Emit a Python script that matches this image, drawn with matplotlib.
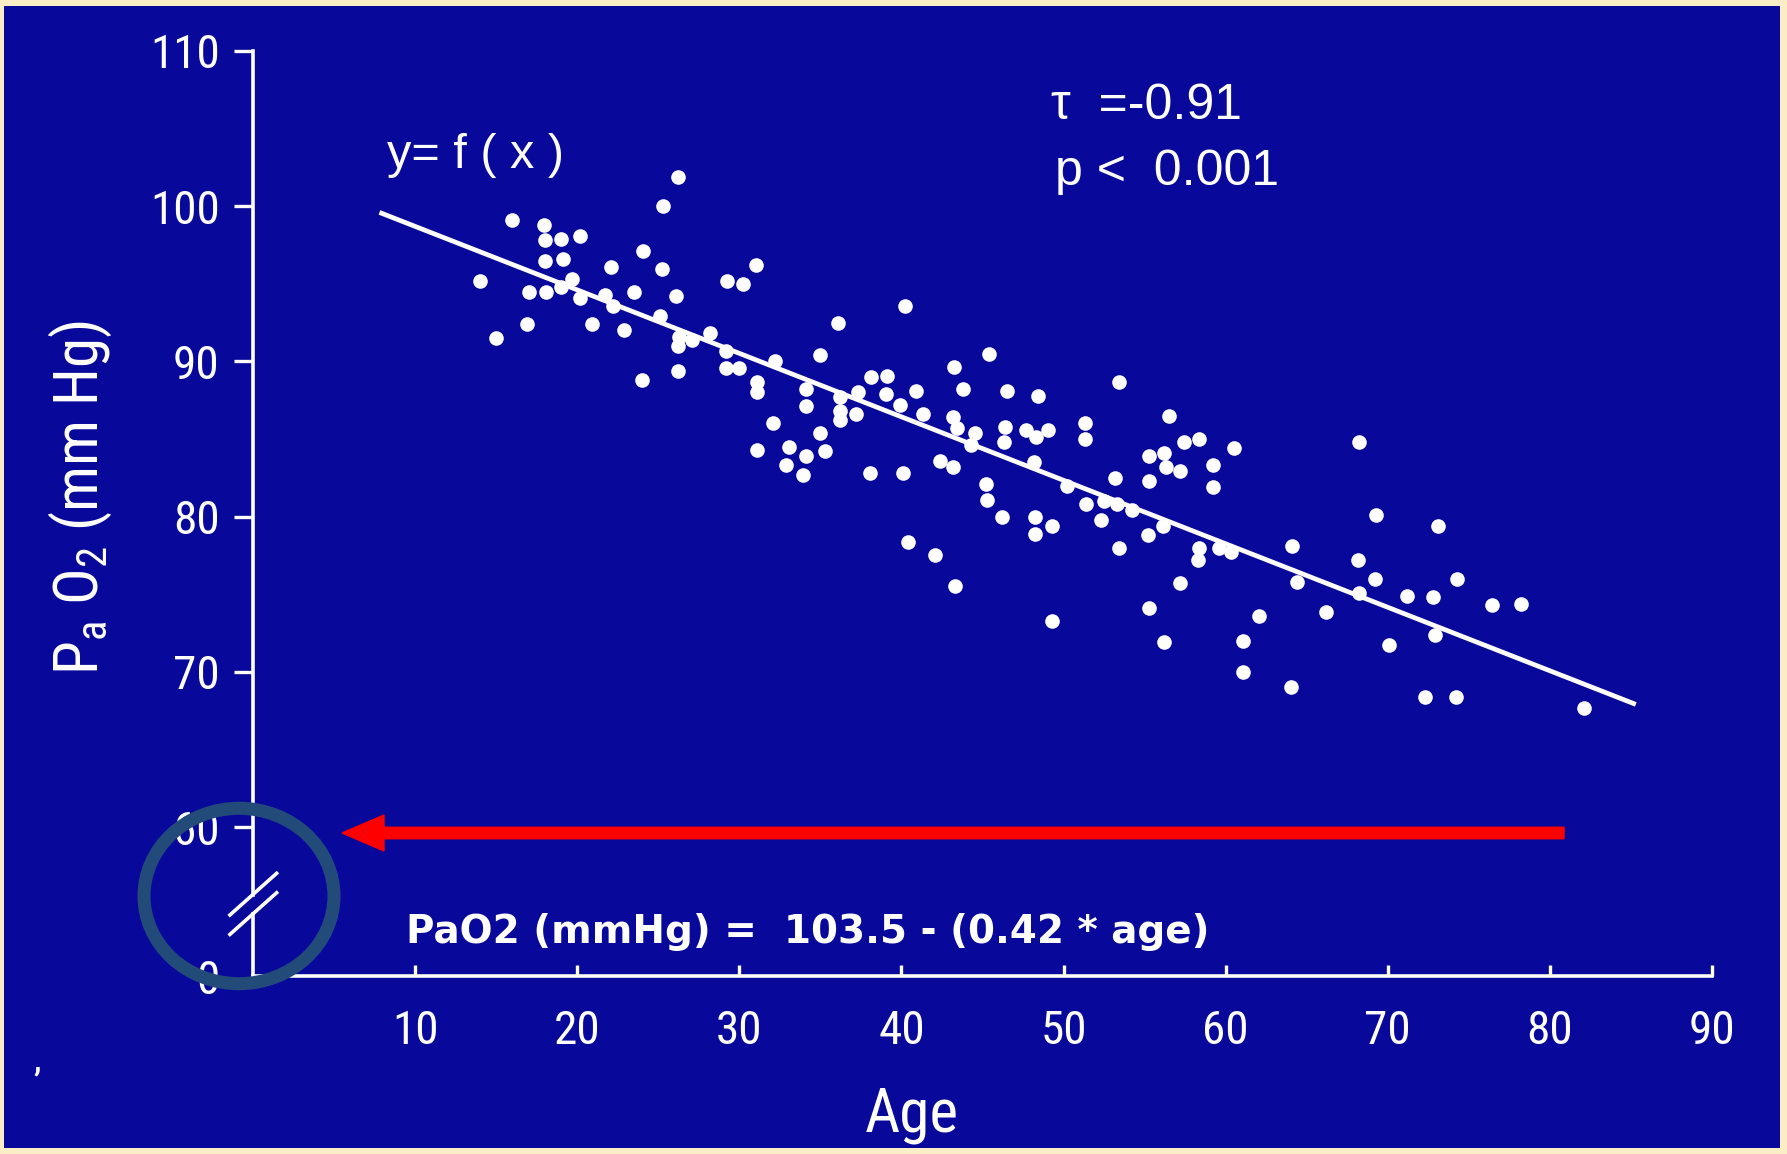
import matplotlib
matplotlib.use("Agg")
import matplotlib.pyplot as plt
import matplotlib.font_manager as fm
from matplotlib.patches import Ellipse, FancyArrow, Rectangle

# ---------------- data ----------------
age = [26.2, 25.3, 16.0, 17.95, 18.0, 19.0, 20.15, 18.0, 19.1, 24.05, 22.06, 25.2, 14.0, 17.0,
       18.1, 19.0, 19.7, 20.15, 21.7, 22.2, 23.5, 26.1, 25.1, 16.9, 20.9, 22.9, 15.0, 26.3,
       27.1, 26.2, 26.2, 24.0,
       31.0, 29.25, 30.25, 40.2, 36.1, 35.0, 28.2, 29.2, 29.2, 30.0, 32.2, 31.1, 31.1, 34.1,
       34.1, 32.1, 38.1, 39.1, 36.2, 37.3, 36.2, 36.2, 37.2, 39.05, 39.9, 40.9, 35.0, 31.1,
       33.05, 34.1, 35.3, 32.9, 33.9, 38.05, 40.1,
       45.4, 43.25, 43.8, 46.5, 48.4, 53.4, 41.3, 43.15, 43.4, 44.55, 44.3, 46.4, 46.3, 47.7,
       48.3, 49.05, 51.3, 51.3, 42.4, 43.2, 48.2, 50.2, 45.2, 45.3, 53.2, 51.4, 52.5, 53.3,
       54.25, 52.3, 46.2, 48.25, 48.25, 49.3, 53.4, 40.4, 42.1, 43.3, 49.3,
       56.5, 57.4, 58.35, 55.3, 56.2, 56.3, 57.2, 60.5, 59.2, 59.2, 55.3, 56.15, 55.2, 58.35,
       58.3, 59.6, 60.3, 64.1, 64.4, 57.2, 55.3, 62.05, 56.2, 61.1, 61.1, 64.0,
       68.2, 69.3, 73.1, 68.15, 69.2, 74.3, 68.2, 71.2, 72.8, 76.4, 78.2, 66.2, 72.9, 70.1,
       72.3, 74.2, 82.1]
pao2 = [101.9, 100.0, 99.1, 98.8, 97.8, 97.9, 98.1, 96.5, 96.6, 97.1, 96.1, 95.95, 95.2, 94.45,
        94.5, 94.8, 95.3, 94.1, 94.3, 93.55, 94.5, 94.2, 92.95, 92.4, 92.4, 92.05, 91.5, 91.6,
        91.4, 91.0, 89.4, 88.8,
        96.2, 95.2, 95.0, 93.6, 92.5, 90.4, 91.8, 90.7, 89.6, 89.6, 90.0, 88.7, 88.0, 88.2,
        87.1, 86.0, 89.0, 89.05, 87.7, 88.0, 86.8, 86.2, 86.6, 87.9, 87.2, 88.1, 85.4, 84.3,
        84.5, 83.9, 84.2, 83.3, 82.7, 82.8, 82.8,
        90.5, 89.65, 88.2, 88.1, 87.8, 88.7, 86.6, 86.4, 85.7, 85.4, 84.6, 85.8, 84.8, 85.6,
        85.1, 85.6, 86.05, 85.0, 83.6, 83.2, 83.5, 82.0, 82.1, 81.1, 82.5, 80.8, 81.0, 80.8,
        80.4, 79.8, 80.0, 79.95, 78.9, 79.4, 78.0, 78.35, 77.5, 75.5, 73.3,
        86.5, 84.8, 85.0, 83.9, 84.1, 83.2, 82.95, 84.45, 83.3, 81.9, 82.3, 79.4, 78.8, 78.0,
        77.2, 78.0, 77.7, 78.1, 75.8, 75.7, 74.1, 73.6, 71.9, 72.0, 70.0, 69.0,
        84.8, 80.1, 79.4, 77.2, 76.0, 75.95, 75.1, 74.9, 74.8, 74.3, 74.4, 73.85, 72.4, 71.75,
        68.4, 68.35, 67.7]

fit_age = [7.8, 85.3]
fit_pao2 = [99.6, 67.9]

x_ticks = [10, 20, 30, 40, 50, 60, 70, 80, 90]
y_ticks = [60, 70, 80, 90, 100, 110]
y_break_bottom = 50.4
y_tick_labels = ["0", "60", "70", "80", "90", "100", "110"]

# ---------------- style ----------------
avail = {f.name for f in fm.fontManager.ttflist}
NARROW = "Liberation Sans"
for cand in ["Liberation Sans Narrow", "Roboto Condensed", "Open Sans Condensed",
             "DejaVu Sans Condensed", "Liberation Sans"]:
    if cand in avail:
        NARROW = cand
        break
WIDE = "Liberation Sans" if "Liberation Sans" in avail else "DejaVu Sans"
plt.rcParams["font.family"] = [NARROW, "DejaVu Sans"]
plt.rcParams["mathtext.fontset"] = "custom"
plt.rcParams["mathtext.rm"] = NARROW
plt.rcParams["mathtext.it"] = NARROW

BLUE = "#08089A"
YELLOW = "#FBEEC6"
WHITE = "white"
W, H = 1787, 1154

fig = plt.figure(figsize=(W / 100, H / 100), dpi=100, facecolor=YELLOW)

def inch(px, py):
    return px / 100.0, (H - py) / 100.0

# blue panel
fig.add_artist(Rectangle(inch(4, 1148), (1780 - 4) / 100, (1148 - 6) / 100,
                         transform=fig.dpi_scale_trans, facecolor=BLUE, edgecolor="none", zorder=0))

ax_left, ax_right, ax_top, ax_bottom = 253, 1712, 51, 976
ax = fig.add_axes([ax_left / W, (H - ax_bottom) / H, (ax_right - ax_left) / W, (ax_bottom - ax_top) / H])
ax.set_facecolor("none")
ax.set_xlim(0, 90)
ax.set_ylim(y_break_bottom, 110)

# scatter + regression line
ax.plot(age, pao2, linestyle="none", marker="o", markersize=10.5, color=WHITE,
        markeredgewidth=0, zorder=3)
ax.plot(fit_age, fit_pao2, color=WHITE, linewidth=3.4, solid_capstyle="butt", zorder=3)

# spines
for s in ["top", "right", "left"]:
    ax.spines[s].set_visible(False)
ax.spines["bottom"].set_color(WHITE)
ax.spines["bottom"].set_linewidth(2.6)

# broken left axis (drawn in axes fraction)
brk_hi, brk_lo = 0.088, 0.067
ax.plot([0, 0], [brk_hi, 1.0], transform=ax.transAxes, color=WHITE, lw=2.6, clip_on=False)
ax.plot([0, 0], [0.0, brk_lo], transform=ax.transAxes, color=WHITE, lw=2.6, clip_on=False)
for dy in (0.0, -0.021):
    ax.plot([-0.0158, 0.0162], [0.066 + dy, 0.111 + dy], transform=ax.transAxes,
            color=WHITE, lw=2.6, clip_on=False)

ax.set_xticks(x_ticks)
ax.set_xticklabels([str(v) for v in x_ticks])
ax.set_yticks([y_break_bottom] + y_ticks)
ax.set_yticklabels(y_tick_labels)
ax.tick_params(axis="x", direction="in", length=8, width=2.4, colors=WHITE, labelsize=34, pad=24)
ax.tick_params(axis="y", direction="out", length=14, width=2.4, colors=WHITE, labelsize=34, pad=10)
ax.yaxis.get_major_ticks()[0].tick1line.set_visible(False)

# labels
fig.text(912 / W, 1 - 1115 / H, "Age", color=WHITE, fontsize=44, ha="center", va="center")
fig.text(80 / W, 1 - 497 / H, r"P$_\mathrm{a}$ O$_\mathrm{2}$ (mm Hg)", color=WHITE, fontsize=44,
         rotation=90, ha="center", va="center")

# annotations
fig.text(387 / W, 1 - 155 / H, "y= f ( x )", color=WHITE, fontsize=35, family=WIDE,
         ha="left", va="center")
fig.text(1051 / W, 1 - 106 / H, "τ  =-0.91", color=WHITE, fontsize=36, family=WIDE,
         ha="left", va="center")
fig.text(1055 / W, 1 - 172 / H, "p <  0.001", color=WHITE, fontsize=36, family=WIDE,
         ha="left", va="center")
fig.text(406 / W, 1 - 932 / H, "PaO2 (mmHg) =  103.5 - (0.42 * age)", color=WHITE, fontsize=28,
         fontweight="bold", family="DejaVu Sans", ha="left", va="center")
fig.text(37 / W, 1 - 1062 / H, ",", color=WHITE, fontsize=22, fontweight="bold", ha="center", va="center")

# red arrow
tx, ty = inch(1564, 833)
hx, hy = inch(342, 833)
fig.add_artist(FancyArrow(tx, ty, hx - tx, 0, width=0.115, head_width=0.36, head_length=0.42,
                          length_includes_head=True, transform=fig.dpi_scale_trans,
                          color="#FF0000", zorder=5))

# highlight ring around the axis break
cx, cy = inch(239, 896)
fig.add_artist(Ellipse((cx, cy), 2 * 0.95, 2 * 0.877, transform=fig.dpi_scale_trans,
                       fill=False, edgecolor="#234B7A", linewidth=9.4, zorder=6))

fig.savefig("out.png", dpi=100, facecolor=YELLOW)
